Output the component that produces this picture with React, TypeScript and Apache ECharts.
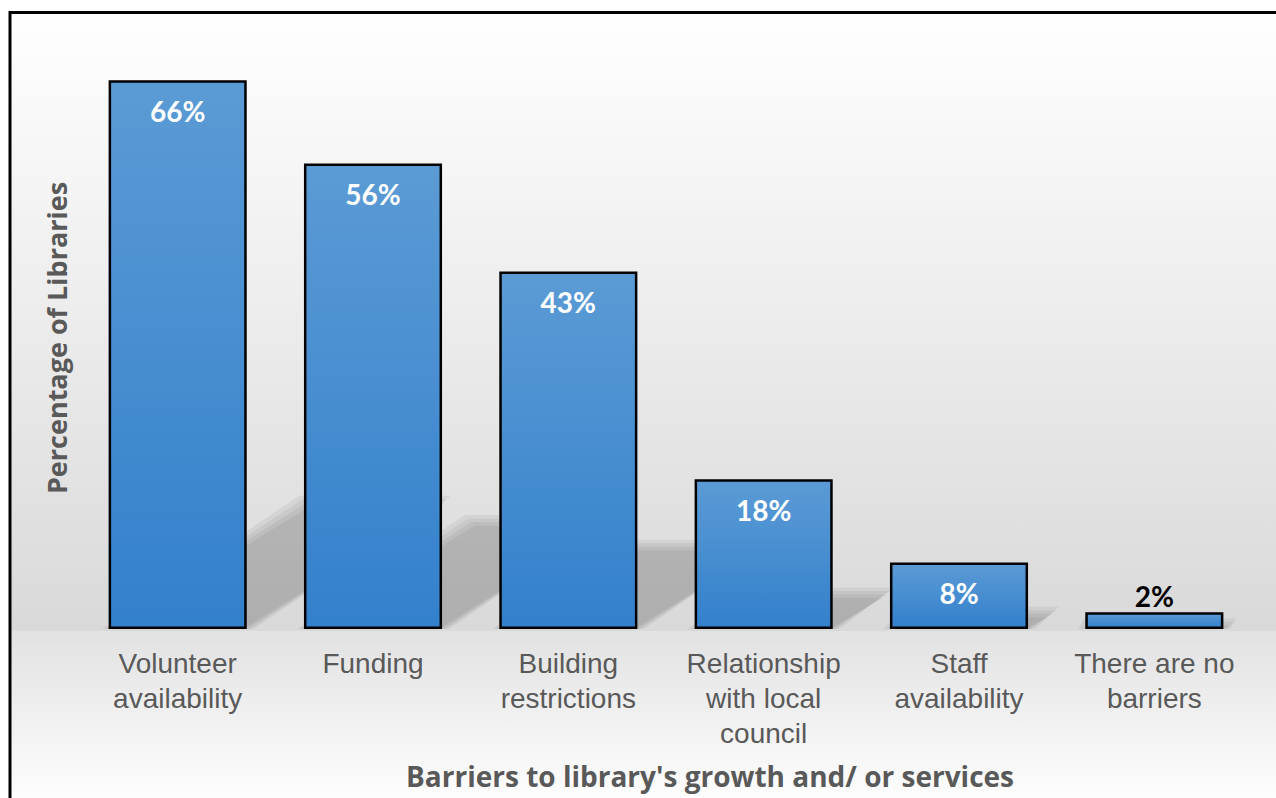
import { useEffect, useRef } from 'react';
import * as echarts from 'echarts';

const categories = [
  'Volunteer\navailability',
  'Funding',
  'Building\nrestrictions',
  'Relationship\nwith local\ncouncil',
  'Staff\navailability',
  'There are no\nbarriers',
];
const values = [66, 56, 43, 18, 8, 2];
const valueLabels = ['66%', '56%', '43%', '18%', '8%', '2%'];
const yAxisMax = 70;
const xAxisTitle = "Barriers to library's growth and/ or services";
const yAxisTitle = 'Percentage of Libraries';

export default function App() {
  const ref = useRef<HTMLDivElement>(null);
  useEffect(() => {
    const chart = echarts.init(ref.current!, null, { renderer: 'svg' });
    const barFrac = 0.707;
    const lg = (stops: [number, string][]) =>
      new echarts.graphic.LinearGradient(0, 0, 0, 1, stops.map(([offset, color]) => ({ offset, color })));
    chart.setOption({
      animation: false,
      backgroundColor: '#ffffff',
      graphic: [
        {
          type: 'rect',
          z: -10,
          silent: true,
          shape: { x: 10, y: 12, width: 1300, height: 619 },
          style: { fill: lg([[0, '#ffffff'], [1, '#d9d9d9']]) },
        },
        {
          type: 'rect',
          z: -10,
          silent: true,
          shape: { x: 10, y: 631, width: 1300, height: 200 },
          style: { fill: lg([[0, '#e2e2e2'], [0.83, '#fdfdfd'], [1, '#ffffff']]) },
        },
        {
          type: 'rect',
          z: 10,
          silent: true,
          shape: { x: 10, y: 12.5, width: 1400, height: 900 },
          style: { fill: 'none', stroke: '#000000', lineWidth: 3 },
        },
      ],
      grid: { left: 80, right: 24, top: 47, bottom: 169 },
      xAxis: {
        type: 'category',
        data: categories,
        axisLine: { show: false },
        axisTick: { show: false },
        axisLabel: {
          interval: 0,
          color: '#595959',
          fontFamily: '"Liberation Sans", Arial, sans-serif',
          fontSize: 28,
          lineHeight: 35,
          margin: 17,
        },
        name: xAxisTitle,
        nameLocation: 'middle',
        nameGap: 133,
        nameTextStyle: {
          color: '#595959',
          fontFamily: '"Open Sans", "Noto Sans", sans-serif',
          fontWeight: 'bold',
          fontSize: 28,
          padding: [0, 0, 0, 88],
        },
      },
      yAxis: {
        type: 'value',
        min: 0,
        max: yAxisMax,
        axisLine: { show: false },
        axisTick: { show: false },
        axisLabel: { show: false },
        splitLine: { show: false },
        name: yAxisTitle,
        nameLocation: 'middle',
        nameRotate: 90,
        nameGap: 10,
        nameTextStyle: {
          color: '#595959',
          fontFamily: '"Open Sans", "Noto Sans", sans-serif',
          fontWeight: 'bold',
          fontSize: 27,
        },
      },
      series: [
        {
          type: 'custom',
          z: 1,
          silent: true,
          data: values.map((v, i) => [i, v]),
          encode: { x: 0, y: 1 },
          renderItem: (params: any, api: any) => {
            const idx = api.value(0);
            const v = api.value(1);
            const base = api.coord([idx, 0]);
            const top = api.coord([idx, v]);
            const w = api.size([1, 0])[0] * barFrac;
            const h = base[1] - top[1];
            const x0 = base[0] - w / 2;
            const x1 = base[0] + w / 2;
            const y0 = base[1];
            const dx = h * 0.36;
            const dy = h * 0.23;
            const layers = [7, 3.5, 0, -3.5];
            return {
              type: 'group',
              children: layers.map((e) => ({
                type: 'polygon',
                shape: {
                  points: [
                    [x0 - e, y0],
                    [x1 + e, y0],
                    [x1 + dx + e, y0 - dy - e],
                    [x0 + dx - e, y0 - dy - e],
                  ],
                },
                style: { fill: 'rgba(0,0,0,0.05)' },
              })),
            };
          },
        },
        {
          type: 'bar',
          z: 2,
          barWidth: '70.7%',
          data: values.map((v, i) => ({
            value: v,
            label:
              i === values.length - 1
                ? { position: 'top', color: '#000000', distance: 2 }
                : undefined,
          })),
          itemStyle: {
            color: lg([[0, '#5b9bd5'], [1, '#3380cc']]),
            borderColor: '#000000',
            borderWidth: 2.5,
          },
          label: {
            show: true,
            position: 'insideTop',
            distance: 17,
            color: '#ffffff',
            fontFamily: 'Lato, "Open Sans", sans-serif',
            fontWeight: 'bold',
            fontSize: 28,
            formatter: (p: any) => valueLabels[p.dataIndex],
          },
        },
      ],
    });
    return () => chart.dispose();
  }, []);
  return (
    <div
      ref={ref}
      style={{ position: 'fixed', left: 0, top: 0, width: 1276, height: 798 }}
    />
  );
}
